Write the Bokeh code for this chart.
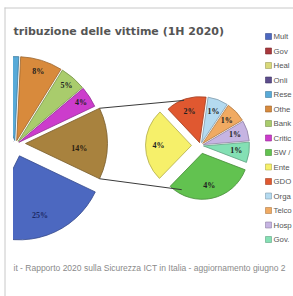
import math
from bokeh.plotting import figure
from bokeh.models import Range1d, ColumnDataSource
from bokeh.embed import file_html
from bokeh.resources import INLINE
from bokeh.core.properties import value

# ---------------- data ----------------
title_text = "tribuzione delle vittime (1H 2020)"
source_text = "it - Rapporto 2020 sulla Sicurezza ICT in Italia - aggiornamento giugno 2"

main_labels = ["Mult", "Gov", "Heal", "Onli", "Rese", "Othe", "Bank", "Critic"]
main_values = [25, 14, 12, 10, 7, 8, 5, 4]
main_colors = ["#4c68c0", "#a8383c", "#d9d97a", "#5c4c8c", "#58aad8", "#d88a3c",
               "#a9cc6c", "#cc3ccc"]

sec_labels = ["SW /", "Ente", "GDO", "Orga", "Telco", "Hosp", "Gov."]
sec_values = [4.4, 3.6, 2, 1, 1, 1, 1]
sec_colors = ["#62c250", "#f6f06a", "#e05830", "#b4daf0", "#f0aa62", "#c6b4e2",
              "#84e0b4"]

other_value = sum(sec_values)
other_color = "#a8823e"

legend_labels = main_labels + sec_labels
legend_colors = main_colors + sec_colors

# ---------------- layout (screen px) ----------------
W, H = 293, 296


def Y(sy):
    return H - sy


def darker(hexc, f=0.72):
    r, g, b = int(hexc[1:3], 16), int(hexc[3:5], 16), int(hexc[5:7], 16)
    return "#%02x%02x%02x" % (int(r * f), int(g * f), int(b * f))


def pct(v):
    return "%d%%" % int(v + 0.5)


p = figure(width=W, height=H, x_range=Range1d(0, W), y_range=Range1d(0, H),
           output_backend="svg", toolbar_location=None,
           x_axis_type=None, y_axis_type=None, min_border=0)
p.grid.visible = False
p.outline_line_color = None
p.background_fill_color = "white"

# ---------------- main pie ----------------
MCX, MCY, MR = 15, 144, 84
total = sum(main_values) + other_value
deg = lambda v: v / total * 360.0
agg_half = deg(other_value) / 2.0

m_start, m_end, m_cx, m_cy, m_lx, m_ly, m_txt = [], [], [], [], [], [], []
cur = -agg_half
explode_main = [12, 4, 4, 4, 4, 4, 4, 4]
label_r_main = [0.75, 0.75, 0.75, 0.75, 0.8, 0.86, 0.88, 0.88]
for i, v in enumerate(main_values):
    end = cur
    start = cur - deg(v)
    cur = start
    mid = math.radians((start + end) / 2)
    cx = MCX + explode_main[i] * math.cos(mid)
    cy = Y(MCY) + explode_main[i] * math.sin(mid)
    m_start.append(math.radians(start))
    m_end.append(math.radians(end))
    m_cx.append(cx)
    m_cy.append(cy)
    m_lx.append(cx + label_r_main[i] * MR * math.cos(mid))
    m_ly.append(cy + label_r_main[i] * MR * math.sin(mid))
    m_txt.append(pct(v))

msrc = ColumnDataSource(dict(x=m_cx, y=m_cy, s=m_start, e=m_end,
                             c=main_colors, lc=[darker(c) for c in main_colors]))
p.wedge(x="x", y="y", radius=MR, start_angle="s", end_angle="e", source=msrc,
        fill_color="c", line_color="lc", line_width=0.8)

# only labels of slices that lie inside the visible area
vis = [i for i in range(len(m_lx)) if m_lx[i] > 22]
mlab = ColumnDataSource(dict(lx=[m_lx[i] for i in vis], ly=[m_ly[i] for i in vis],
                             t=[m_txt[i] for i in vis],
                             tc=["#1c2a66" if i == 0 else "#1e1e1e" for i in vis]))

# aggregate slice
AGX, AGY = MCX + 10, Y(MCY) + 1
agg_src = ColumnDataSource(dict(x=[AGX], y=[AGY], s=[math.radians(-agg_half)],
                                e=[math.radians(agg_half)]))
p.wedge(x="x", y="y", radius=MR - 2, start_angle="s", end_angle="e", source=agg_src,
        fill_color=other_color, line_color=darker(other_color), line_width=0.8)

# ---------------- secondary pie ----------------
SCX, SCY, SR = 200, 145, 46
SEC_START = -21.0
stot = sum(sec_values)
sdeg = lambda v: v / stot * 360.0
explode_sec = [8, 9, 3, 3, 3, 3, 3]
s_start, s_end, s_cx, s_cy, s_lx, s_ly, s_txt = [], [], [], [], [], [], []
cur = SEC_START
for i, v in enumerate(sec_values):
    end = cur
    start = cur - sdeg(v)
    cur = start
    mid = math.radians((start + end) / 2)
    cx = SCX + explode_sec[i] * math.cos(mid)
    cy = Y(SCY) + explode_sec[i] * math.sin(mid)
    s_start.append(math.radians(start))
    s_end.append(math.radians(end))
    s_cx.append(cx)
    s_cy.append(cy)
    s_lx.append(cx + 0.72 * SR * math.cos(mid))
    s_ly.append(cy + 0.72 * SR * math.sin(mid))
    s_txt.append(pct(v))

ssrc = ColumnDataSource(dict(x=s_cx, y=s_cy, s=s_start, e=s_end,
                             c=sec_colors, lc=[darker(c) for c in sec_colors],
                             lx=s_lx, ly=s_ly, t=s_txt))
p.wedge(x="x", y="y", radius=SR, start_angle="s", end_angle="e", source=ssrc,
        fill_color="c", line_color="lc", line_width=0.8)

# connector lines
top_a, bot_a = math.radians(110), math.radians(-113)
ax_top = AGX + (MR - 2) * math.cos(math.radians(agg_half))
ay_top = AGY + (MR - 2) * math.sin(math.radians(agg_half))
ay_bot = AGY - (MR - 2) * math.sin(math.radians(agg_half))
p.segment(x0=[ax_top, ax_top], y0=[ay_top, ay_bot],
          x1=[SCX + (SR + 2) * math.cos(top_a), SCX + (SR + 2) * math.cos(bot_a)],
          y1=[Y(SCY) + (SR + 2) * math.sin(top_a), Y(SCY) + (SR + 2) * math.sin(bot_a)],
          line_color="#3a3a3a", line_width=1)

# percentage labels
lab_font = value("Liberation Serif")
p.text(x="lx", y="ly", text="t", source=mlab, text_font=lab_font, text_font_size="8px",
       text_font_style="bold", text_align="center", text_baseline="middle",
       text_color="tc")
p.text(x=[AGX + 0.64 * MR], y=[AGY - 5], text=[pct(other_value)], text_font=lab_font,
       text_font_size="8px", text_font_style="bold", text_align="center",
       text_baseline="middle", text_color="#2a2010")
p.text(x="lx", y="ly", text="t", source=ssrc, text_font=lab_font, text_font_size="8px",
       text_font_style="bold", text_align="center", text_baseline="middle",
       text_color="#202020")

# clip strip at left + frame lines (drawn above the pies)
p.quad(left=[-40], right=[12.5], bottom=[-10], top=[H + 10], fill_color="white",
       line_color=None, level="overlay")
p.segment(x0=[4, 4.5], y0=[Y(7.5), Y(7)], x1=[W, 4.5], y1=[Y(7.5), 0],
          line_color="#c8c8c8", line_width=1, level="overlay")

# title
p.text(x=[13], y=[Y(31)], text=[title_text], text_font=value("DejaVu Sans"),
       text_font_size="11px", text_font_style="bold", text_color="#555555",
       text_baseline="middle", text_align="left")

# legend
LY0, LDY = 36, 14.5
leg_y = [Y(LY0 + i * LDY) for i in range(len(legend_labels))]
lsrc = ColumnDataSource(dict(y=leg_y, c=legend_colors, lc=[darker(c) for c in legend_colors],
                             t=legend_labels))
p.rect(x=268, y="y", width=6, height=6, source=lsrc, fill_color="c", line_color="lc",
       line_width=0.6)
p.text(x=273, y="y", text="t", source=lsrc, text_font=value("Liberation Sans"),
       text_font_size="7.8px", text_color="#555555", text_baseline="middle",
       text_align="left")

# source note
p.text(x=[13], y=[Y(267)], text=[source_text], text_font=value("Liberation Sans"),
       text_font_size="8.5px", text_color="#8a8a8a", text_baseline="middle",
       text_align="left")

open("out.html", "w").write(file_html(p, INLINE))
